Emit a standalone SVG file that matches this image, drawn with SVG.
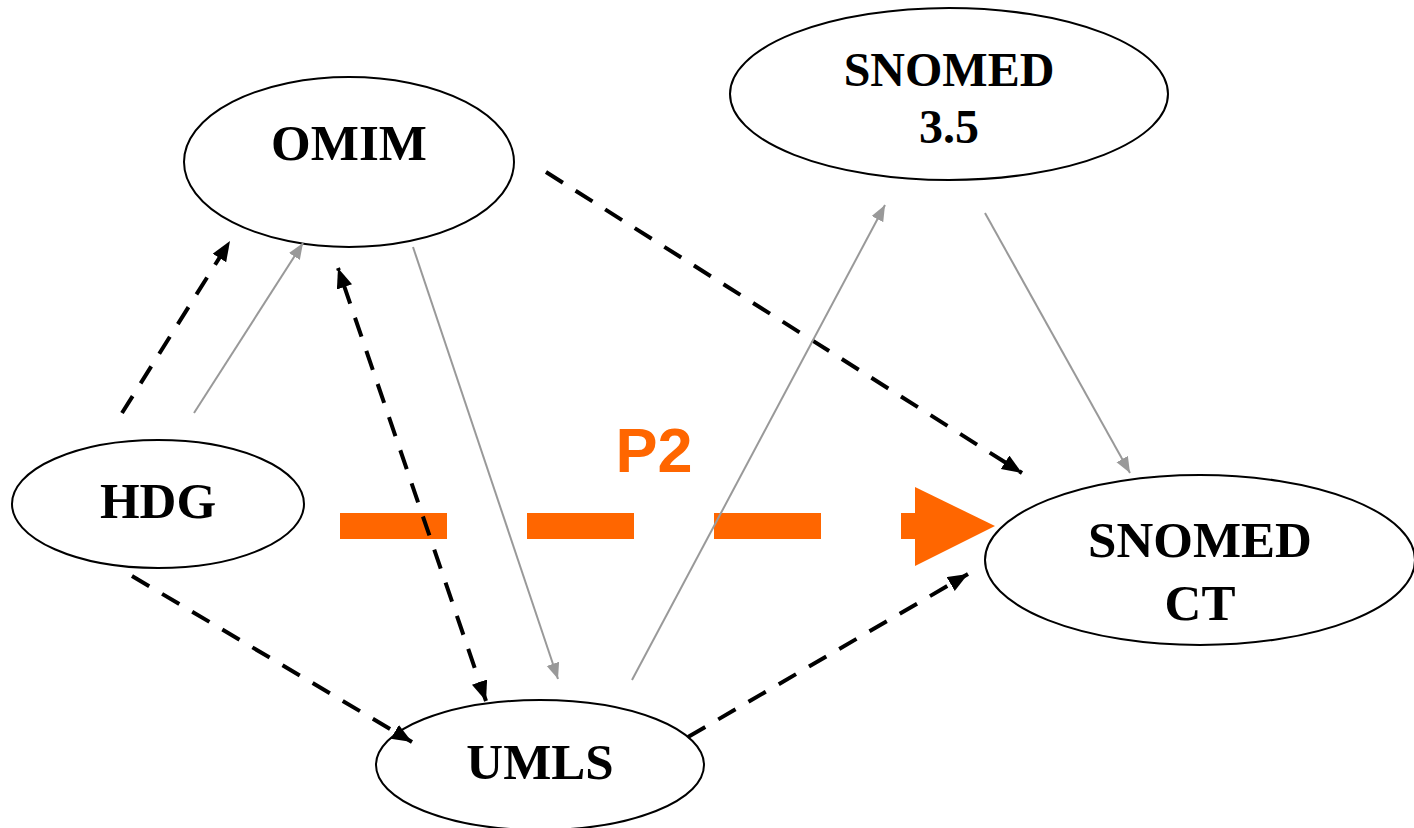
<svg xmlns="http://www.w3.org/2000/svg" width="1414" height="828" viewBox="0 0 1414 828">
<style>
.node ellipse{fill:#fff;stroke:#000;stroke-width:2}
.node text{font-family:"Liberation Serif","Times New Roman",serif;font-weight:bold;font-size:51px;fill:#000;text-anchor:middle}
.dash{stroke:#000;stroke-width:4;stroke-dasharray:20 15;fill:none;marker-end:url(#ab)}
.gray{stroke:#999;stroke-width:2;fill:none;marker-end:url(#ag)}
</style>
<defs>
<marker id="ab" markerUnits="userSpaceOnUse" markerWidth="22" markerHeight="18" refX="20" refY="8" orient="auto-start-reverse" viewBox="0 0 22 18">
<path d="M0,0 L20,8 L0,16 Z" fill="#000"/>
</marker>
<marker id="ag" markerUnits="userSpaceOnUse" markerWidth="18" markerHeight="14" refX="16" refY="6.5" orient="auto" viewBox="0 0 18 14">
<path d="M0,0 L16,6.5 L0,13 Z" fill="#999"/>
</marker>
</defs>
<rect width="1414" height="828" fill="#fff"/>
<g id="nodes">
<g id="omim" class="node"><ellipse cx="349" cy="162" rx="165" ry="85"/><text x="349" y="160">OMIM</text></g>
<g id="snomed35" class="node"><ellipse cx="949" cy="94" rx="219" ry="86"/><text x="949" y="86" style="font-size:48px">SNOMED</text><text x="949" y="143" style="font-size:48px">3.5</text></g>
<g id="hdg" class="node"><ellipse cx="158" cy="504" rx="146" ry="64"/><text x="158" y="518">HDG</text></g>
<g id="snomedct" class="node"><ellipse cx="1200" cy="560" rx="215" ry="85"/><text x="1200" y="557">SNOMED</text><text x="1200" y="620">CT</text></g>
<g id="umls" class="node"><ellipse cx="540" cy="765" rx="164" ry="65"/><text x="540" y="779">UMLS</text></g>
</g>
<g id="p2">
<line x1="340" y1="526" x2="915" y2="526" stroke="#FF6600" stroke-width="26" stroke-dasharray="107 80"/>
<polygon points="915,487 995,526 915,566" fill="#FF6600"/>
<text x="654" y="472" font-family="'Liberation Sans',Arial,sans-serif" font-weight="bold" font-size="63" fill="#FF6600" text-anchor="middle">P2</text>
</g>
<g id="connectors">
<line class="dash" x1="122" y1="413" x2="230" y2="241"/>
<line class="gray" x1="194" y1="413" x2="303" y2="243"/>
<line class="dash" x1="486" y1="701" x2="338" y2="268" style="marker-start:url(#ab)"/>
<line class="gray" x1="413" y1="247" x2="558" y2="679"/>
<line class="dash" x1="132" y1="576" x2="412" y2="742"/>
<line class="dash" x1="688" y1="737" x2="968" y2="574"/>
<line class="dash" x1="546" y1="172" x2="1022" y2="473"/>
<line class="gray" x1="632" y1="680" x2="885" y2="205"/>
<line class="gray" x1="985" y1="213" x2="1130" y2="473"/>
</g>
</svg>
